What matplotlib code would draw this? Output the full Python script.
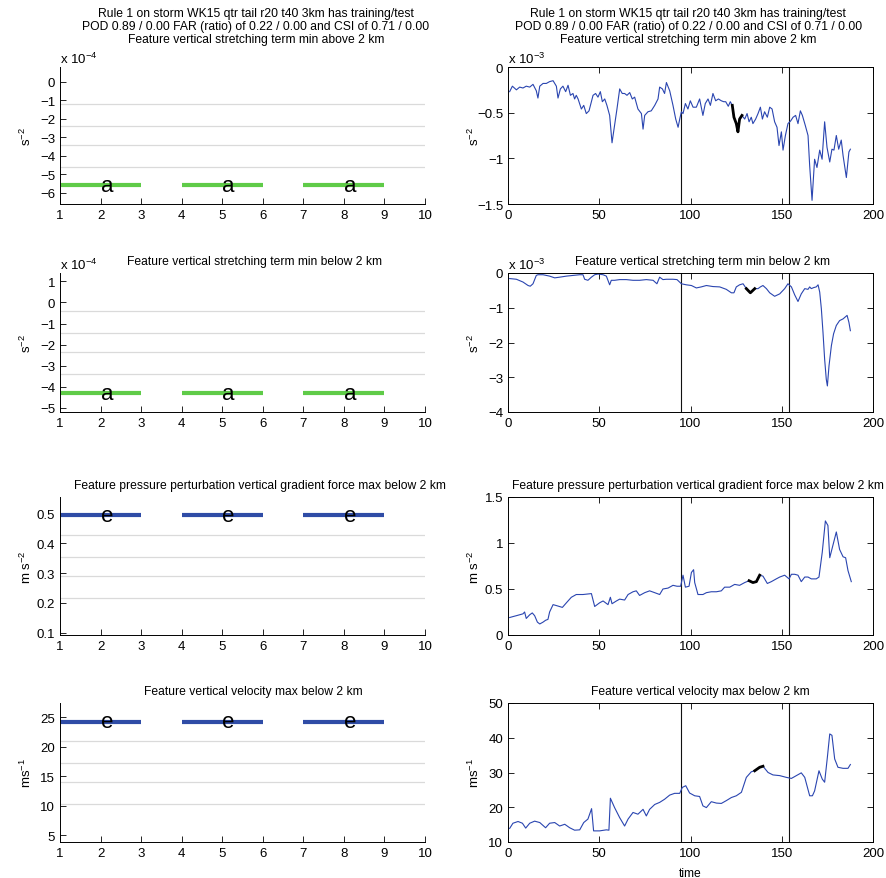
import matplotlib
matplotlib.use('Agg')
import matplotlib.pyplot as plt
from matplotlib.ticker import FuncFormatter

plt.rcParams['font.family'] = ['Liberation Sans', 'DejaVu Sans']
plt.rcParams['mathtext.fontset'] = 'custom'
plt.rcParams['mathtext.rm'] = 'Liberation Sans'
plt.rcParams['mathtext.it'] = 'Liberation Sans:italic'

# ---------------- data ----------------
header = ['Rule 1 on storm WK15 qtr tail r20 t40 3km has training/test',
          'POD 0.89 / 0.00 FAR (ratio) of 0.22 / 0.00 and CSI of 0.71 / 0.00']
features = ['Feature vertical stretching term min above 2 km',
            'Feature vertical stretching term min below 2 km',
            'Feature pressure perturbation vertical gradient force max below 2 km',
            'Feature vertical velocity max below 2 km']
units = ['s$^{-2}$', 's$^{-2}$', 'm s$^{-2}$', 'ms$^{-1}$']
left_exp = ['x 10$^{-4}$', 'x 10$^{-4}$', None, None]
right_exp = ['x 10$^{-3}$', 'x 10$^{-3}$', None, None]

# left panels: rule threshold segments and other branch levels
seg_start = [1, 4, 7]
seg_end = [3, 6, 9]
seg_label_x = [2, 5, 8]
rule_level = [-5.6, -4.3, 0.493, 24.2]
rule_letter = ['a', 'a', 'e', 'e']
rule_color = ['#5fcb48', '#5fcb48', '#2f4ca6', '#2f4ca6']
grey_levels = [[-1.19, -2.38, -3.41, -4.6],
               [-0.40, -1.44, -2.35, -3.40],
               [0.429, 0.355, 0.291, 0.217],
               [21.0, 17.2, 14.0, 10.3]]
left_ylim = [(-6.6, 0.8), (-5.2, 1.4), (0.092, 0.555), (3.9, 27.4)]
left_yticks = [[-6, -5, -4, -3, -2, -1, 0],
               [-5, -4, -3, -2, -1, 0, 1],
               [0.1, 0.2, 0.3, 0.4, 0.5],
               [5, 10, 15, 20, 25]]

# right panels: time series (x 1e-3 for the first two)
t1 = [0.9, 2.4, 4.6, 6.4, 8.2, 10.0, 11.9, 13.7, 15.5, 16.4,
      17.4, 19.2, 21.0, 22.8, 24.7, 26.5, 27.4, 28.7, 30.1, 31.6,
      32.9, 34.2, 35.6, 36.5, 37.4, 38.4, 40.2, 41.5, 42.9, 44.4,
      45.7, 46.6, 48.0, 49.3, 50.6, 51.7, 53.0, 54.2, 55.7, 57.0,
      58.4, 59.7, 61.2, 62.6, 63.9, 65.2, 66.7, 68.1, 69.4, 71.2,
      73.1, 74.0, 74.9, 76.7, 78.5, 80.4, 82.2, 83.1, 84.6, 85.8,
      86.8, 88.6, 90.4, 91.9, 93.2, 94.1, 95.0, 95.9, 97.2, 98.6,
      99.9, 101.4, 103.2, 105.0, 106.8, 108.1, 109.6, 110.9, 112.3, 113.8,
      115.3, 116.9, 118.2, 119.3, 120.7, 121.8, 122.9, 123.8, 125.1, 126.0,
      126.9, 128.2, 129.7, 131.0, 132.1, 133.3, 134.2, 135.7, 137.0, 138.3,
      139.4, 140.6, 142.1, 143.4, 144.7, 146.1, 147.4, 148.5, 149.8, 150.7,
      152.0, 153.4, 154.9, 156.2, 157.6, 158.9, 160.2, 161.3, 162.9, 164.4,
      165.3, 166.6, 168.0, 169.3, 170.8, 172.1, 173.5, 174.8, 176.3, 177.5,
      178.6, 179.9, 181.2, 182.6, 183.6, 185.4, 186.8, 187.6]
v1 = [-0.27, -0.21, -0.25, -0.22, -0.23, -0.21, -0.22, -0.19, -0.26, -0.34,
      -0.21, -0.18, -0.18, -0.16, -0.15, -0.21, -0.34, -0.24, -0.21, -0.27,
      -0.20, -0.31, -0.29, -0.35, -0.31, -0.35, -0.46, -0.42, -0.51, -0.48,
      -0.38, -0.31, -0.29, -0.33, -0.27, -0.38, -0.35, -0.42, -0.53, -0.83,
      -0.64, -0.46, -0.24, -0.29, -0.29, -0.31, -0.28, -0.35, -0.33, -0.46,
      -0.51, -0.68, -0.53, -0.49, -0.48, -0.42, -0.35, -0.22, -0.24, -0.29,
      -0.17, -0.26, -0.42, -0.57, -0.66, -0.57, -0.49, -0.51, -0.40, -0.46,
      -0.37, -0.44, -0.44, -0.35, -0.53, -0.40, -0.35, -0.42, -0.29, -0.37,
      -0.35, -0.37, -0.38, -0.38, -0.43, -0.38, -0.42, -0.55, -0.62, -0.71,
      -0.57, -0.53, -0.57, -0.51, -0.60, -0.55, -0.62, -0.57, -0.51, -0.44,
      -0.57, -0.49, -0.55, -0.44, -0.46, -0.60, -0.66, -0.86, -0.71, -0.91,
      -0.75, -0.62, -0.59, -0.55, -0.53, -0.62, -0.48, -0.53, -0.64, -0.75,
      -1.08, -1.46, -1.01, -1.10, -0.91, -1.01, -0.60, -0.88, -1.04, -0.90,
      -0.91, -0.75, -0.90, -0.80, -0.97, -1.21, -0.93, -0.90]

t2 = [0.9, 4.6, 8.2, 11.0, 12.2, 13.7, 15.5, 16.4, 19.2, 22.8,
      25.6, 28.3, 32.0, 35.6, 39.3, 41.1, 42.0, 43.8, 45.7, 47.5,
      49.3, 52.1, 53.9, 55.7, 56.6, 58.4, 61.2, 64.8, 68.5, 72.1,
      75.8, 79.5, 81.6, 83.1, 84.9, 86.8, 90.4, 92.6, 95.0, 97.7,
      100.5, 103.2, 105.9, 108.7, 112.3, 116.0, 119.6, 122.4, 123.8, 125.1,
      126.9, 128.8, 130.6, 132.8, 135.2, 137.0, 138.3, 139.7, 141.6, 143.4,
      146.1, 148.9, 151.6, 153.4, 155.3, 157.1, 158.9, 160.7, 162.6, 164.4,
      165.3, 166.2, 167.5, 168.9, 169.9, 170.8, 171.7, 172.6, 173.5, 174.4,
      175.0, 175.9, 177.2, 178.4, 179.9, 181.7, 183.6, 185.8, 186.8, 187.6]
v2 = [-0.16, -0.18, -0.26, -0.36, -0.38, -0.31, -0.07, -0.05, -0.05, -0.09,
      -0.14, -0.12, -0.09, -0.07, -0.05, -0.05, -0.18, -0.21, -0.12, -0.05,
      -0.03, -0.05, -0.09, -0.34, -0.21, -0.21, -0.19, -0.19, -0.21, -0.21,
      -0.19, -0.21, -0.31, -0.12, -0.19, -0.18, -0.18, -0.19, -0.31, -0.34,
      -0.36, -0.43, -0.40, -0.36, -0.39, -0.40, -0.47, -0.57, -0.57, -0.40,
      -0.34, -0.31, -0.45, -0.57, -0.45, -0.45, -0.40, -0.36, -0.45, -0.57,
      -0.67, -0.60, -0.45, -0.31, -0.40, -0.63, -0.82, -0.60, -0.45, -0.47,
      -0.40, -0.45, -0.42, -0.40, -0.34, -0.55, -1.03, -1.71, -2.48, -3.06,
      -3.25, -2.67, -2.09, -1.75, -1.51, -1.37, -1.32, -1.22, -1.42, -1.66]

t3 = [0.9, 2.7, 4.6, 6.4, 8.2, 9.1, 10.0, 11.9, 13.3, 14.6,
      16.1, 17.4, 19.2, 20.6, 21.9, 22.8, 24.7, 26.5, 29.8, 32.0,
      34.7, 37.4, 41.1, 45.7, 47.5, 50.2, 52.1, 54.8, 56.1, 57.0,
      59.4, 61.2, 63.9, 65.8, 68.5, 70.3, 72.1, 74.9, 77.6, 80.4,
      83.1, 84.9, 87.7, 90.4, 92.6, 94.6, 95.9, 97.2, 99.2, 100.5,
      101.7, 102.3, 104.1, 106.8, 108.7, 111.4, 114.2, 116.9, 118.7, 121.5,
      124.2, 126.9, 129.7, 132.1, 134.2, 136.1, 137.9, 139.7, 142.1, 144.3,
      147.0, 148.9, 151.6, 154.0, 155.3, 157.1, 158.9, 160.7, 162.6, 164.4,
      166.2, 168.9, 170.4, 172.2, 173.9, 175.3, 176.3, 177.2, 179.9, 181.7,
      183.6, 185.0, 186.3, 188.1]
v3 = [0.19, 0.20, 0.21, 0.22, 0.23, 0.25, 0.18, 0.22, 0.24, 0.21,
      0.14, 0.12, 0.14, 0.16, 0.17, 0.25, 0.33, 0.32, 0.30, 0.35,
      0.41, 0.44, 0.44, 0.45, 0.31, 0.35, 0.37, 0.33, 0.41, 0.34,
      0.37, 0.39, 0.38, 0.44, 0.47, 0.48, 0.43, 0.46, 0.48, 0.46,
      0.44, 0.50, 0.51, 0.54, 0.53, 0.53, 0.65, 0.52, 0.53, 0.68,
      0.71, 0.57, 0.44, 0.44, 0.46, 0.47, 0.47, 0.48, 0.52, 0.52,
      0.55, 0.54, 0.57, 0.59, 0.57, 0.58, 0.65, 0.64, 0.56, 0.58,
      0.61, 0.63, 0.65, 0.61, 0.66, 0.66, 0.65, 0.58, 0.63, 0.63,
      0.61, 0.61, 0.63, 0.90, 1.24, 1.19, 0.84, 0.91, 1.12, 0.93,
      0.85, 0.84, 0.70, 0.58]

t4 = [0.9, 2.7, 5.5, 7.9, 9.7, 11.9, 14.6, 17.4, 20.6, 22.8,
      25.6, 28.3, 31.1, 33.8, 36.5, 39.3, 41.5, 43.8, 45.8, 46.9,
      50.2, 53.9, 55.3, 56.1, 58.4, 61.2, 63.9, 65.8, 68.5, 71.2,
      74.0, 75.8, 77.6, 80.4, 83.1, 85.8, 88.6, 91.3, 94.1, 95.5,
      97.4, 99.5, 102.3, 105.0, 106.8, 108.7, 111.4, 114.2, 116.9, 119.6,
      122.4, 125.1, 127.9, 130.6, 133.3, 135.2, 137.9, 139.7, 142.5, 145.2,
      148.9, 152.5, 155.3, 158.0, 160.7, 162.6, 165.3, 166.8, 168.0, 170.4,
      172.2, 173.5, 175.0, 176.3, 177.5, 179.0, 180.8, 183.6, 186.3, 187.6]
v4 = [13.9, 15.4, 15.9, 15.4, 14.0, 15.4, 16.0, 15.6, 14.1, 15.4,
      15.6, 14.6, 15.1, 14.1, 13.4, 13.5, 15.6, 16.6, 19.6, 13.2,
      13.2, 13.5, 13.4, 22.6, 19.9, 17.0, 14.6, 16.6, 18.5, 18.0,
      19.4, 17.5, 19.4, 20.8, 21.4, 22.3, 23.5, 24.0, 24.0, 25.7,
      26.2, 24.1, 23.3, 23.1, 20.4, 19.9, 21.6, 21.2, 21.1, 21.9,
      22.8, 23.3, 24.3, 28.6, 30.2, 30.5, 31.5, 31.8, 30.0, 29.3,
      29.1, 28.6, 28.3, 29.1, 29.9, 28.6, 23.3, 23.3, 24.7, 30.5,
      28.1, 27.2, 34.4, 41.1, 40.7, 33.9, 31.5, 31.2, 31.2, 32.3]

series_t = [t1, t2, t3, t4]
series_v = [v1, v2, v3, v4]
highlight = [(122.5, 128.5), (130.0, 135.5), (132.0, 138.0), (135.0, 140.0)]
split_times = [95, 154]
right_ylim = [(-1.5, 0), (-4, 0), (0, 1.5), (10, 50)]
right_yticks = [[-1.5, -1, -0.5, 0], [-4, -3, -2, -1, 0],
                [0, 0.5, 1, 1.5], [10, 20, 30, 40, 50]]

left_title_x = [0.537, 0.533, 0.548, 0.53]
right_title_x = [0.494, 0.532, 0.52, 0.527]

# ---------------- figure ----------------
W, H = 887, 879
fig = plt.figure(figsize=(W / 100, H / 100), dpi=100)

rows_px = [(68, 205), (274, 413), (498, 636), (704, 843)]
left_px = (60, 425)
right_px = (508, 873)

TICK_FS = 9.5
TITLE_FS = 8.7


def fmt(v, pos):
    if abs(v) < 1e-12:
        return '0'
    return ('%g' % v).replace('-', '\u2212')


for i in range(4):
    top, bot = rows_px[i]
    h = (bot - top) / H
    y0 = 1 - bot / H

    # ---- left: rule thresholds ----
    ax = fig.add_axes([left_px[0] / W, y0, (left_px[1] - left_px[0]) / W, h])
    for g in grey_levels[i]:
        ax.axhline(g, color='#dadada', lw=0.9, zorder=1)
    for s, e, lx in zip(seg_start, seg_end, seg_label_x):
        ax.plot([s, e], [rule_level[i]] * 2, color=rule_color[i], lw=3.0,
                solid_capstyle='butt', zorder=2)
        ax.text(lx, rule_level[i], rule_letter[i], fontsize=16, ha='left',
                va='center', zorder=3)
    ax.set_xlim(1, 10)
    ax.set_ylim(*left_ylim[i])
    ax.set_xticks(range(1, 11))
    ax.set_yticks(left_yticks[i])
    ax.yaxis.set_major_formatter(FuncFormatter(fmt))
    ax.spines['top'].set_visible(False)
    ax.spines['right'].set_visible(False)
    ax.tick_params(direction='in', length=4, labelsize=TICK_FS, width=0.6)
    for sp in ax.spines.values():
        sp.set_linewidth(0.7)
    ax.set_ylabel(units[i], fontsize=TICK_FS)
    ax.yaxis.set_label_coords(-0.07, 0.5)
    if left_exp[i]:
        ax.annotate(left_exp[i], xy=(0, 1), xycoords='axes fraction',
                    xytext=(0, 3), textcoords='offset points',
                    ha='left', va='baseline', fontsize=TICK_FS)

    # ---- right: time series ----
    axr = fig.add_axes([right_px[0] / W, y0, (right_px[1] - right_px[0]) / W, h])
    axr.plot(series_t[i], series_v[i], color='#2a45b0', lw=0.8, zorder=2)
    a, b = highlight[i]
    ht = [t for t in series_t[i] if a <= t <= b]
    hv = [v for t, v in zip(series_t[i], series_v[i]) if a <= t <= b]
    axr.plot(ht, hv, color='black', lw=2.0, zorder=3)
    for st in split_times:
        axr.axvline(st, color='#111111', lw=0.8, zorder=1)
    axr.set_xlim(0, 200)
    axr.set_ylim(*right_ylim[i])
    axr.set_xticks([0, 50, 100, 150, 200])
    axr.set_yticks(right_yticks[i])
    axr.yaxis.set_major_formatter(FuncFormatter(fmt))
    axr.tick_params(direction='in', length=4, labelsize=TICK_FS, width=0.6,
                    top=True, right=True)
    for sp in axr.spines.values():
        sp.set_linewidth(0.7)
    axr.set_ylabel(units[i], fontsize=TICK_FS)
    axr.yaxis.set_label_coords(-0.07, 0.5)
    if right_exp[i]:
        axr.annotate(right_exp[i], xy=(0, 1), xycoords='axes fraction',
                     xytext=(0, 3), textcoords='offset points',
                     ha='left', va='baseline', fontsize=TICK_FS)
    if i == 3:
        axr.set_xlabel('time', fontsize=TITLE_FS, labelpad=6)

    # ---- titles ----
    for a_, tx in ((ax, left_title_x[i]), (axr, right_title_x[i])):
        if i == 0:
            lines = header + [features[i]]
            offs = [54, 41, 28]
        else:
            lines = [features[i]]
            offs = [12]
        for ln, off in zip(lines, offs):
            a_.annotate(ln, xy=(tx, 1), xycoords='axes fraction',
                        xytext=(0, off * 0.72), textcoords='offset points',
                        ha='center', va='center', fontsize=TITLE_FS)

fig.savefig('out.png', dpi=100)
